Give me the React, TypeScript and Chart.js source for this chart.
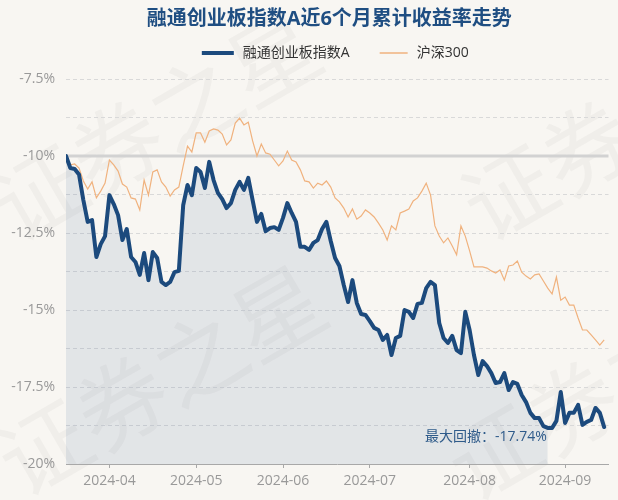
import React, { useEffect, useRef } from "react";
import { Chart, registerables } from "chart.js";

Chart.register(...registerables);

const TITLE = "融通创业板指数A近6个月累计收益率走势";
const SERIES_NAMES = ["融通创业板指数A", "沪深300"];
const MONTH_TICK_INDEX = [10, 30, 50, 70, 93, 115];
const MONTH_LABELS = ["2024-04", "2024-05", "2024-06", "2024-07", "2024-08", "2024-09"];
const Y_MIN = -20;
const Y_MAX = -7.5;
const Y_STEP = 1.25;
const BASE_VALUE = -10;
const TROUGH_INDEX = 111;
const DRAWDOWN_LABEL = "最大回撤：-17.74%";
const WATERMARK = "证券之星";

const fundValues = [
  -10.0, -10.39, -10.42, -10.6, -11.43, -12.14, -12.08, -13.28, -12.86, -12.6,
  -11.27, -11.56, -11.92, -12.73, -12.37, -13.28, -13.44, -13.86, -13.15, -14.03,
  -13.12, -13.31, -14.09, -14.19, -14.09, -13.77, -13.73, -11.6, -10.94, -11.27,
  -10.39, -10.52, -11.04, -10.19, -10.78, -11.2, -11.4, -11.69, -11.53, -11.1,
  -10.84, -11.1, -10.71, -11.43, -12.14, -11.88, -12.44, -12.34, -12.31, -12.4,
  -12.01, -11.53, -11.85, -12.14, -12.95, -12.95, -13.05, -12.82, -12.73, -12.37,
  -12.14, -12.76, -13.31, -13.57, -14.19, -14.74, -14.03, -14.77, -15.13, -15.16,
  -15.36, -15.58, -15.65, -15.97, -15.81, -16.46, -15.91, -15.84, -15.0, -15.06,
  -15.26, -14.8, -14.77, -14.29, -14.09, -14.19, -15.42, -15.91, -16.07, -15.84,
  -16.3, -16.4, -15.06, -15.65, -16.46, -17.11, -16.66, -16.82, -17.05, -17.37,
  -17.34, -17.05, -17.6, -17.34, -17.4, -17.76, -17.99, -18.34, -18.51, -18.51,
  -18.77, -18.83, -18.83, -18.6, -17.66, -18.67, -18.34, -18.34, -18.08, -18.73,
  -18.63, -18.57, -18.18, -18.34, -18.8,
];

const hs300Values = [
  -10.0, -10.29, -10.26, -10.39, -10.81, -11.07, -10.84, -11.36, -11.14, -10.88,
  -10.13, -10.29, -10.49, -10.91, -11.01, -11.36, -11.4, -11.75, -10.78, -11.27,
  -10.52, -10.45, -10.84, -11.01, -11.3, -11.1, -11.01, -10.32, -9.68, -9.87,
  -9.25, -9.25, -9.55, -9.19, -9.12, -9.16, -9.29, -9.64, -9.48, -8.93,
  -8.77, -8.99, -8.9, -9.51, -10.0, -9.61, -9.9, -9.94, -10.13, -10.32,
  -10.16, -9.84, -10.13, -10.19, -10.45, -10.81, -10.84, -11.04, -10.88, -10.94,
  -10.81, -11.01, -11.36, -11.49, -11.69, -11.98, -11.72, -12.05, -11.95, -11.75,
  -11.85, -11.98, -12.18, -12.4, -12.73, -12.27, -12.4, -11.85, -11.79, -11.72,
  -11.46, -11.36, -11.14, -10.88, -11.27, -12.27, -12.6, -12.82, -12.66, -12.92,
  -13.21, -12.27, -12.6, -13.08, -13.6, -13.6, -13.6, -13.64, -13.73, -13.8,
  -13.7, -14.03, -13.57, -13.54, -13.41, -13.77, -13.9, -13.99, -13.86, -13.83,
  -14.06, -14.29, -14.48, -13.93, -14.68, -14.58, -14.84, -14.84, -15.26, -15.65,
  -15.65, -15.81, -15.97, -16.14, -15.97,
];

const BG = "#f8f6f2";
const FUND_COLOR = "#1c4a7d";
const HS_COLOR = "#f0b27e";
const FILL_COLOR = "rgba(70,110,160,0.12)";
const FONT = '"Open Sans", "Noto Sans CJK SC", sans-serif';

const toPoints = (arr: number[]) => arr.map((v, i) => ({ x: i, y: v }));

const decorPlugin = {
  id: "decor",
  beforeDraw(chart: any) {
    const { ctx } = chart;
    ctx.save();
    ctx.fillStyle = BG;
    ctx.fillRect(0, 0, chart.width, chart.height);
    // faint diagonal watermark
    ctx.font = `90px "Noto Sans CJK SC", sans-serif`;
    ctx.fillStyle = "rgba(120,120,120,0.06)";
    ctx.textBaseline = "middle";
    ctx.textAlign = "left";
    const starts = [
      [0, 215],
      [5, 470],
      [455, 475],
      [470, 215],
    ];
    for (const [sx, sy] of starts) {
      ctx.save();
      ctx.translate(sx, sy);
      ctx.rotate(-Math.PI / 6);
      ctx.fillText(WATERMARK, 0, 0);
      ctx.restore();
    }
    ctx.restore();
  },
  beforeDatasetsDraw(chart: any) {
    const { ctx, chartArea, scales } = chart;
    const y = scales.y.getPixelForValue(BASE_VALUE);
    ctx.save();
    ctx.strokeStyle = "#d2d2d2";
    ctx.lineWidth = 3;
    ctx.beginPath();
    ctx.moveTo(chartArea.left, y);
    ctx.lineTo(chartArea.right, y);
    ctx.stroke();
    ctx.restore();
  },
  afterDatasetsDraw(chart: any) {
    const { ctx, scales } = chart;
    const x = scales.x.getPixelForValue(TROUGH_INDEX);
    const y = scales.y.getPixelForValue(Y_MIN) - 27;
    ctx.save();
    ctx.font = `14px ${FONT}`;
    ctx.fillStyle = "#2f5b8a";
    ctx.textAlign = "right";
    ctx.textBaseline = "middle";
    ctx.fillText(DRAWDOWN_LABEL, x - 1, y);
    ctx.restore();
  },
  afterDraw(chart: any) {
    const { ctx, chartArea } = chart;
    const cx = (chartArea.left + chartArea.right) / 2;
    ctx.save();
    ctx.font = `bold 20px ${FONT}`;
    ctx.fillStyle = "#1f4e82";
    ctx.textAlign = "center";
    ctx.textBaseline = "middle";
    ctx.fillText(TITLE, cx - 8, 19);
    ctx.font = `14px ${FONT}`;
    const lineW = 32;
    const gap = 9;
    const itemGap = 30;
    const w0 = ctx.measureText(SERIES_NAMES[0]).width;
    const w1 = ctx.measureText(SERIES_NAMES[1]).width;
    const total = lineW + gap + w0 + itemGap + lineW + gap + w1;
    let x = cx - total / 2;
    const ly = 53;
    ctx.textAlign = "left";
    ctx.strokeStyle = FUND_COLOR;
    ctx.lineWidth = 4;
    ctx.beginPath();
    ctx.moveTo(x, ly);
    ctx.lineTo(x + lineW, ly);
    ctx.stroke();
    ctx.fillStyle = "#333";
    ctx.fillText(SERIES_NAMES[0], x + lineW + gap, ly);
    x += lineW + gap + w0 + itemGap;
    ctx.strokeStyle = HS_COLOR;
    ctx.lineWidth = 1.5;
    ctx.beginPath();
    ctx.moveTo(x, ly);
    ctx.lineTo(x + lineW - 4, ly);
    ctx.stroke();
    ctx.fillText(SERIES_NAMES[1], x + lineW + gap - 4, ly);
    ctx.restore();
  },
};

export default function App() {
  const ref = useRef<HTMLCanvasElement>(null);
  useEffect(() => {
    const canvas = ref.current!;
    const chart = new Chart(canvas, {
      type: "line",
      data: {
        datasets: [
          {
            label: SERIES_NAMES[0],
            data: toPoints(fundValues),
            borderColor: FUND_COLOR,
            backgroundColor: FUND_COLOR,
            borderWidth: 4,
            pointRadius: 0,
            tension: 0,
            fill: false,
            borderJoinStyle: "round",
            borderCapStyle: "round",
          },
          {
            label: SERIES_NAMES[1],
            data: toPoints(hs300Values),
            borderColor: HS_COLOR,
            backgroundColor: HS_COLOR,
            borderWidth: 1.2,
            pointRadius: 0,
            tension: 0,
            fill: false,
          },
          {
            label: "drawdown",
            data: toPoints(fundValues.slice(0, TROUGH_INDEX + 1)),
            borderWidth: 0,
            borderColor: "transparent",
            backgroundColor: FILL_COLOR,
            pointRadius: 0,
            tension: 0,
            fill: "start",
          },
        ],
      },
      options: {
        responsive: false,
        animation: false,
        devicePixelRatio: 1,
        layout: { padding: { top: 79, right: 9.5, bottom: 0, left: 0 } },
        plugins: {
          legend: { display: false },
          title: { display: false },
          tooltip: { enabled: false },
        },
        scales: {
          x: {
            type: "linear",
            min: 0,
            max: 125,
            afterFit: (s: any) => {
              s.height = 36;
            },
            afterBuildTicks: (s: any) => {
              s.ticks = MONTH_TICK_INDEX.map((v) => ({ value: v }));
            },
            grid: {
              display: true,
              drawOnChartArea: false,
              drawTicks: true,
              tickLength: 4,
              tickColor: "#a8a8a8",
              color: "#a8a8a8",
            },
            border: { display: true, color: "#a8a8a8", width: 1 },
            ticks: {
              autoSkip: false,
              maxRotation: 0,
              padding: 5,
              color: "#999",
              font: { family: FONT, size: 14 },
              callback: (v: any) => {
                const k = MONTH_TICK_INDEX.indexOf(Number(v));
                return k >= 0 ? MONTH_LABELS[k] : "";
              },
            },
          },
          y: {
            min: Y_MIN,
            max: Y_MAX,
            afterFit: (s: any) => {
              s.width = 66;
            },
            grid: {
              drawTicks: false,
              color: (c: any) => {
                const v = c.tick ? c.tick.value : 0;
                return Math.abs(v - BASE_VALUE) < 1e-6 || Math.abs(v - Y_MIN) < 1e-6 ? "rgba(0,0,0,0)" : "#d9d9d9";
              },
              lineWidth: 1,
            },
            border: { display: false, dash: [4, 3] },
            ticks: {
              stepSize: Y_STEP,
              padding: 11,
              color: "#999",
              font: { family: FONT, size: 14 },
              callback: (v: any) => {
                const n = Number(v);
                const r = n / 2.5;
                if (Math.abs(r - Math.round(r)) > 1e-6) return "";
                return `${Number(n.toFixed(2))}%`;
              },
            },
          },
        },
      },
      plugins: [decorPlugin],
    });
    return () => chart.destroy();
  }, []);
  return (
    <div style={{ position: "absolute", left: 0, top: 0, width: 618, height: 500, background: BG }}>
      <canvas ref={ref} width={618} height={500} style={{ display: "block", width: 618, height: 500 }} />
    </div>
  );
}
